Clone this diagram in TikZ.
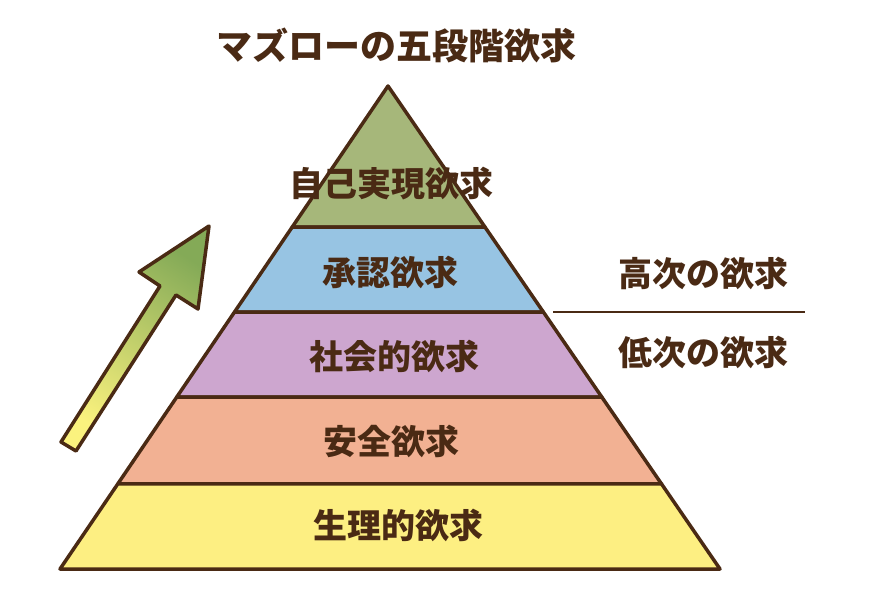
\documentclass[tikz,border=0pt]{standalone}
\usepackage{fontspec}
\setmainfont{Noto Sans CJK JP}
\usetikzlibrary{calc}
\definecolor{ink}{HTML}{4A2A14}
\definecolor{lvlgreen}{HTML}{A6B77A}
\definecolor{lvlblue}{HTML}{97C4E3}
\definecolor{lvlpurple}{HTML}{CDA6CF}
\definecolor{lvlsalmon}{HTML}{F2B193}
\definecolor{lvlyellow}{HTML}{FDEF82}
\definecolor{arrowgreen}{HTML}{84AA57}
\definecolor{arrowyellow}{HTML}{FBF27E}
\tikzset{
  layer/.style={draw=ink, line width=3.5pt, line join=round},
  label/.style={text=ink, font=\fontsize{34}{38}\selectfont\bfseries, inner sep=0pt},
}
\begin{document}
\begin{tikzpicture}[x=1pt, y=-1pt]
      \useasboundingbox (0,0) rectangle (896,596);
      \coordinate (top) at (388,86);
      \coordinate (bl) at (60,569);
      \coordinate (br) at (720,569);
      \coordinate (l1) at ($(top)!0.292!(bl)$);
      \coordinate (r1) at ($(top)!0.292!(br)$);
      \coordinate (l2) at ($(top)!0.468!(bl)$);
      \coordinate (r2) at ($(top)!0.468!(br)$);
      \coordinate (l3) at ($(top)!0.644!(bl)$);
      \coordinate (r3) at ($(top)!0.644!(br)$);
      \coordinate (l4) at ($(top)!0.824!(bl)$);
      \coordinate (r4) at ($(top)!0.824!(br)$);
      % layers
      \filldraw[layer, fill=lvlgreen] (top) -- (r1) -- (l1) -- cycle;
      \filldraw[layer, fill=lvlblue] (l1) -- (r1) -- (r2) -- (l2) -- cycle;
      \filldraw[layer, fill=lvlpurple] (l2) -- (r2) -- (r3) -- (l3) -- cycle;
      \filldraw[layer, fill=lvlsalmon] (l3) -- (r3) -- (r4) -- (l4) -- cycle;
      \filldraw[layer, fill=lvlyellow] (l4) -- (r4) -- (br) -- (bl) -- cycle;
      % arrow
      \shade[bottom color=arrowyellow, top color=arrowgreen, shading angle=-33]
        (61,442) -- (76,451) -- (176,295) -- (198,309) -- (209,226)
        -- (139,272) -- (160,286) -- cycle;
      \draw[layer]
        (61,442) -- (76,451) -- (176,295) -- (198,309) -- (209,226)
        -- (139,272) -- (160,286) -- cycle;
      % labels
      \node[label, font=\fontsize{36}{40}\selectfont\bfseries] (title) at (396,45) {マズローの五段階欲求};
      \node[label] (self) at (391,184) {自己実現欲求};
      \node[label] (esteem) at (390,272) {承認欲求};
      \node[label] (social) at (394,356) {社会的欲求};
      \node[label] (safety) at (391,441) {安全欲求};
      \node[label] (body) at (398,525) {生理的欲求};
      \node[label] (high) at (703,273) {高次の欲求};
      \node[label] (low) at (703,352) {低次の欲求};
      \coordinate (divl) at (553,312);
      \coordinate (divr) at (805,312);
      \draw[ink, line width=2.6pt] (divl) -- (divr);
    \end{tikzpicture}
\end{document}
